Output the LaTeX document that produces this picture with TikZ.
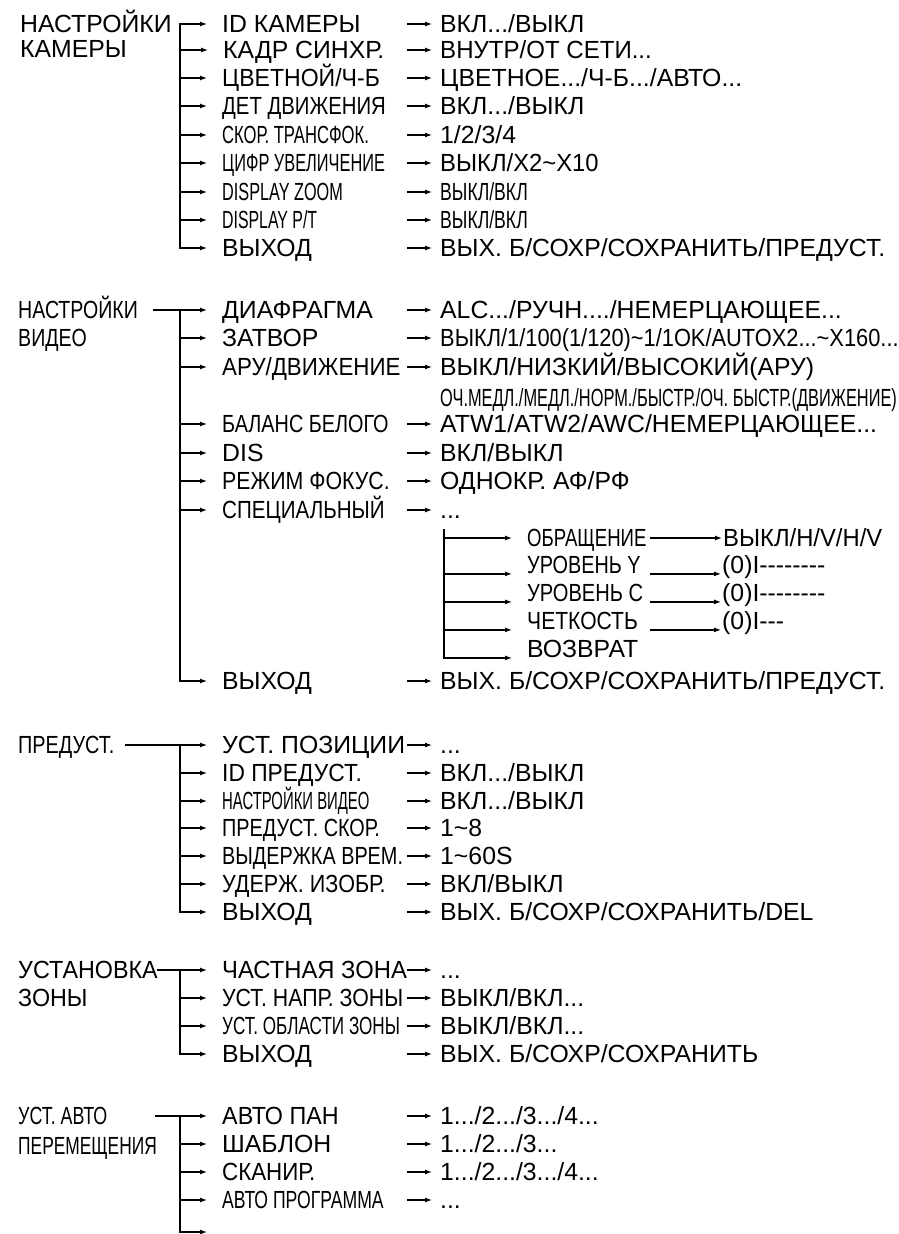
\documentclass[tikz,border=0pt]{standalone}
\usepackage{fontspec}
\setmainfont{Liberation Sans}[Ligatures=TeXOff]
\usetikzlibrary{positioning, arrows.meta}

\begin{document}
\begin{tikzpicture}[
  x=1pt, y=-1pt,
  every node/.style={inner sep=0pt, anchor=west, text height=17.8pt, text depth=0pt},
  lbl/.style={font=\fontsize{24.8}{30}\selectfont},
  cnd/.style={font=\fontsize{24.8}{30}\selectfont\addfontfeature{FakeStretch=#1}},
  line/.style={line width=1.2pt, line cap=rect},
  arr/.style={line width=1.2pt, -{Latex[length=7pt,width=5pt]}, shorten >=15pt},
  varr/.style={arr, shorten >=8pt},
  sarr/.style={arr, shorten >=1pt},
]
\useasboundingbox (0,0) rectangle (898,1234);
\clip (0,0) rectangle (898,1234);
\coordinate (cb) at (180,0);
\coordinate (cv) at (407,0);

  % Camera settings
\node[lbl] (cam) at (20,24) {НАСТРОЙКИ};
\node[lbl, below right=6pt and 0pt of cam.south west] (cam2) {КАМЕРЫ};
\node[lbl] (c1) at (222,24) {ID КАМЕРЫ};
\node[lbl] (c2) at (223,50) {КАДР СИНХР.};
\node[cnd=0.93] (c3) at (222,78) {ЦВЕТНОЙ/Ч-Б};
\node[cnd=0.82] (c4) at (222,106) {ДЕТ ДВИЖЕНИЯ};
\node[cnd=0.67] (c5) at (222,135) {СКОР. ТРАНСФОК.};
\node[cnd=0.66] (c6) at (222,163) {ЦИФР УВЕЛИЧЕНИЕ};
\node[cnd=0.655] (c7) at (222,192) {DISPLAY ZOOM};
\node[cnd=0.64] (c8) at (222,220) {DISPLAY P/T};
\node[lbl] (c9) at (222,248) {ВЫХОД};
\node[lbl] (cv1) at (440,24) {ВКЛ.../ВЫКЛ};
\node[cnd=0.97] (cv2) at (440,50) {ВНУТР/ОТ СЕТИ...};
\node[lbl] (cv3) at (440,78) {ЦВЕТНОЕ.../Ч-Б.../АВТО...};
\node[lbl] (cv4) at (440,106) {ВКЛ.../ВЫКЛ};
\node[lbl] (cv5) at (440,135) {1/2/3/4};
\node[cnd=0.96] (cv6) at (440,163) {ВЫКЛ/X2\textasciitilde X10};
\node[cnd=0.71] (cv7) at (440,192) {ВЫКЛ/ВКЛ};
\node[cnd=0.71] (cv8) at (440,220) {ВЫКЛ/ВКЛ};
\node[lbl] (cv9) at (440,248) {ВЫХ. Б/СОХР/СОХРАНИТЬ/ПРЕДУСТ.};
\draw[line] (c1 -| cb) -- (c9 -| cb);
\draw[arr] (c1 -| cb) -- (c1.west);
\draw[arr] (c2 -| cb) -- (c2.west);
\draw[arr] (c3 -| cb) -- (c3.west);
\draw[arr] (c4 -| cb) -- (c4.west);
\draw[arr] (c5 -| cb) -- (c5.west);
\draw[arr] (c6 -| cb) -- (c6.west);
\draw[arr] (c7 -| cb) -- (c7.west);
\draw[arr] (c8 -| cb) -- (c8.west);
\draw[arr] (c9 -| cb) -- (c9.west);
\draw[varr] (c1 -| cv) -- (cv1.west);
\draw[varr] (c2 -| cv) -- (cv2.west);
\draw[varr] (c3 -| cv) -- (cv3.west);
\draw[varr] (c4 -| cv) -- (cv4.west);
\draw[varr] (c5 -| cv) -- (cv5.west);
\draw[varr] (c6 -| cv) -- (cv6.west);
\draw[varr] (c7 -| cv) -- (cv7.west);
\draw[varr] (c8 -| cv) -- (cv8.west);
\draw[varr] (c9 -| cv) -- (cv9.west);

  % Video settings
\node[cnd=0.79] (vid) at (18,310) {НАСТРОЙКИ};
\node[cnd=0.79, below right=9pt and 0pt of vid.south west] (vid2) {ВИДЕО};
\coordinate (vs) at (153,310);
\node[lbl] (v1) at (222,310) {ДИАФРАГМА};
\node[lbl] (v2) at (222,338) {ЗАТВОР};
\node[cnd=0.9] (v3) at (222,367) {АРУ/ДВИЖЕНИЕ};
\node[cnd=0.8] (v4) at (222,424) {БАЛАНС БЕЛОГО};
\node[lbl] (v5) at (222,453) {DIS};
\node[cnd=0.86] (v6) at (222,481) {РЕЖИМ ФОКУС.};
\node[cnd=0.83] (v7) at (222,510) {СПЕЦИАЛЬНЫЙ};
\node[lbl] (v8) at (222,681) {ВЫХОД};
\node[lbl] (vv1) at (440,310) {ALC.../РУЧН..../НЕМЕРЦАЮЩЕЕ...};
\node[cnd=0.88] (vv2) at (440,338) {ВЫКЛ/1/100(1/120)\textasciitilde 1/1OK/AUTOX2...\textasciitilde X160...};
\node[lbl] (vv3) at (440,367) {ВЫКЛ/НИЗКИЙ/ВЫСОКИЙ(АРУ)};
\node[cnd=0.66, below right=12pt and 0pt of vv3.south west] (vv3b) {ОЧ.МЕДЛ./МЕДЛ./НОРМ./БЫСТР./ОЧ. БЫСТР.(ДВИЖЕНИЕ)};
\node[lbl] (vv4) at (440,424) {ATW1/ATW2/AWC/НЕМЕРЦАЮЩЕЕ...};
\node[lbl] (vv5) at (440,453) {ВКЛ/ВЫКЛ};
\node[lbl] (vv6) at (440,481) {ОДНОКР. АФ/РФ};
\node[lbl] (vv7) at (440,510) {...};
\node[lbl] (vv8) at (440,681) {ВЫХ. Б/СОХР/СОХРАНИТЬ/ПРЕДУСТ.};
\draw[line] (v1 -| cb) -- (v8 -| cb);
\draw[arr] (vs) -- (v1.west);
\draw[arr] (v2 -| cb) -- (v2.west);
\draw[arr] (v3 -| cb) -- (v3.west);
\draw[arr] (v4 -| cb) -- (v4.west);
\draw[arr] (v5 -| cb) -- (v5.west);
\draw[arr] (v6 -| cb) -- (v6.west);
\draw[arr] (v7 -| cb) -- (v7.west);
\draw[arr] (v8 -| cb) -- (v8.west);
\draw[varr] (v1 -| cv) -- (vv1.west);
\draw[varr] (v2 -| cv) -- (vv2.west);
\draw[varr] (v3 -| cv) -- (vv3.west);
\draw[varr] (v4 -| cv) -- (vv4.west);
\draw[varr] (v5 -| cv) -- (vv5.west);
\draw[varr] (v6 -| cv) -- (vv6.west);
\draw[varr] (v7 -| cv) -- (vv7.west);
\draw[varr] (v8 -| cv) -- (vv8.west);

  % Special submenu
\coordinate (sb) at (444,530);
\coordinate (sl) at (650,0);
\node[cnd=0.75] (s1) at (527,538) {ОБРАЩЕНИЕ};
\node[cnd=0.8] (s2) at (527,565) {УРОВЕНЬ Y};
\node[cnd=0.81] (s3) at (527,593) {УРОВЕНЬ C};
\node[cnd=0.85] (s4) at (527,621) {ЧЕТКОСТЬ};
\node[lbl] (s5) at (527,649) {ВОЗВРАТ};
\node[cnd=0.96] (sv1) at (723,538) {ВЫКЛ/H/V/H/V};
\node[lbl] (sv2) at (722,565) {(0)I--------};
\node[lbl] (sv3) at (722,593) {(0)I--------};
\node[lbl] (sv4) at (722,621) {(0)I---};
\draw[line] (sb) -- (s5.base west -| sb);
\draw[arr] (s1 -| sb) -- (s1.west);
\draw[arr] (s2.base west -| sb) -- (s2.base west);
\draw[arr] (s3.base west -| sb) -- (s3.base west);
\draw[arr] (s4.base west -| sb) -- (s4.base west);
\draw[arr] (s5.base west -| sb) -- (s5.base west);
\draw[sarr] (s1 -| sl) -- (sv1.west);
\draw[sarr] (s2.base west -| sl) -- (sv2.base west);
\draw[sarr] (s3.base west -| sl) -- (sv3.base west);
\draw[sarr] (s4.base west -| sl) -- (sv4.base west);

  % Presets
\node[cnd=0.8] (pre) at (18,745) {ПРЕДУСТ.};
\coordinate (ps) at (125,745);
\node[lbl] (p1) at (222,745) {УСТ. ПОЗИЦИИ};
\node[cnd=0.92] (p2) at (222,773) {ID ПРЕДУСТ.};
\node[cnd=0.6] (p3) at (222,801) {НАСТРОЙКИ ВИДЕО};
\node[cnd=0.8] (p4) at (222,828) {ПРЕДУСТ. СКОР.};
\node[cnd=0.8] (p5) at (222,856) {ВЫДЕРЖКА ВРЕМ.};
\node[cnd=0.87] (p6) at (222,884) {УДЕРЖ. ИЗОБР.};
\node[lbl] (p7) at (222,912) {ВЫХОД};
\node[lbl] (pv1) at (440,745) {...};
\node[lbl] (pv2) at (440,773) {ВКЛ.../ВЫКЛ};
\node[lbl] (pv3) at (440,801) {ВКЛ.../ВЫКЛ};
\node[lbl] (pv4) at (440,828) {1\textasciitilde 8};
\node[lbl] (pv5) at (440,856) {1\textasciitilde 60S};
\node[lbl] (pv6) at (440,884) {ВКЛ/ВЫКЛ};
\node[lbl] (pv7) at (440,912) {ВЫХ. Б/СОХР/СОХРАНИТЬ/DEL};
\draw[line] (p1 -| cb) -- (p7 -| cb);
\draw[arr] (ps) -- (p1.west);
\draw[arr] (p2 -| cb) -- (p2.west);
\draw[arr] (p3 -| cb) -- (p3.west);
\draw[arr] (p4 -| cb) -- (p4.west);
\draw[arr] (p5 -| cb) -- (p5.west);
\draw[arr] (p6 -| cb) -- (p6.west);
\draw[arr] (p7 -| cb) -- (p7.west);
\draw[varr] (p1 -| cv) -- (pv1.west);
\draw[varr] (p2 -| cv) -- (pv2.west);
\draw[varr] (p3 -| cv) -- (pv3.west);
\draw[varr] (p4 -| cv) -- (pv4.west);
\draw[varr] (p5 -| cv) -- (pv5.west);
\draw[varr] (p6 -| cv) -- (pv6.west);
\draw[varr] (p7 -| cv) -- (pv7.west);

  % Zone setup
\node[cnd=0.94] (zon) at (18,970) {УСТАНОВКА};
\node[cnd=0.94, below right=9pt and 0pt of zon.south west] (zon2) {ЗОНЫ};
\coordinate (zs) at (157,970);
\node[cnd=0.96] (z1) at (222,970) {ЧАСТНАЯ ЗОНА};
\node[cnd=0.86] (z2) at (222,998) {УСТ. НАПР. ЗОНЫ};
\node[cnd=0.69] (z3) at (222,1026) {УСТ. ОБЛАСТИ ЗОНЫ};
\node[lbl] (z4) at (222,1054) {ВЫХОД};
\node[lbl] (zv1) at (440,970) {...};
\node[lbl] (zv2) at (440,998) {ВЫКЛ/ВКЛ...};
\node[lbl] (zv3) at (440,1026) {ВЫКЛ/ВКЛ...};
\node[lbl] (zv4) at (440,1054) {ВЫХ. Б/СОХР/СОХРАНИТЬ};
\draw[line] (z1 -| cb) -- (z4 -| cb);
\draw[arr] (zs) -- (z1.west);
\draw[arr] (z2 -| cb) -- (z2.west);
\draw[arr] (z3 -| cb) -- (z3.west);
\draw[arr] (z4 -| cb) -- (z4.west);
\draw[varr] (z1 -| cv) -- (zv1.west);
\draw[varr] (z2 -| cv) -- (zv2.west);
\draw[varr] (z3 -| cv) -- (zv3.west);
\draw[varr] (z4 -| cv) -- (zv4.west);

  % Auto motion setup
\node[cnd=0.72] (aut) at (18,1116) {УСТ. АВТО};
\node[cnd=0.7, below right=11pt and 0pt of aut.south west] (aut2) {ПЕРЕМЕЩЕНИЯ};
\coordinate (as) at (155,1116);
\node[cnd=0.94] (a1) at (222,1116) {АВТО ПАН};
\node[lbl] (a2) at (222,1144) {ШАБЛОН};
\node[cnd=0.9] (a3) at (222,1172) {СКАНИР.};
\node[cnd=0.71] (a4) at (222,1200) {АВТО ПРОГРАММА};
\coordinate (a5) at (222,1232);
\node[lbl] (av1) at (440,1116) {1.../2.../3.../4...};
\node[lbl] (av2) at (440,1144) {1.../2.../3...};
\node[lbl] (av3) at (440,1172) {1.../2.../3.../4...};
\node[lbl] (av4) at (440,1200) {...};
\draw[line] (a1 -| cb) -- (a5 -| cb);
\draw[arr] (as) -- (a1.west);
\draw[arr] (a2 -| cb) -- (a2.west);
\draw[arr] (a3 -| cb) -- (a3.west);
\draw[arr] (a4 -| cb) -- (a4.west);
\draw[arr] (a5 -| cb) -- (a5);
\draw[varr] (a1 -| cv) -- (av1.west);
\draw[varr] (a2 -| cv) -- (av2.west);
\draw[varr] (a3 -| cv) -- (av3.west);
\draw[varr] (a4 -| cv) -- (av4.west);
\end{tikzpicture}
\end{document}
